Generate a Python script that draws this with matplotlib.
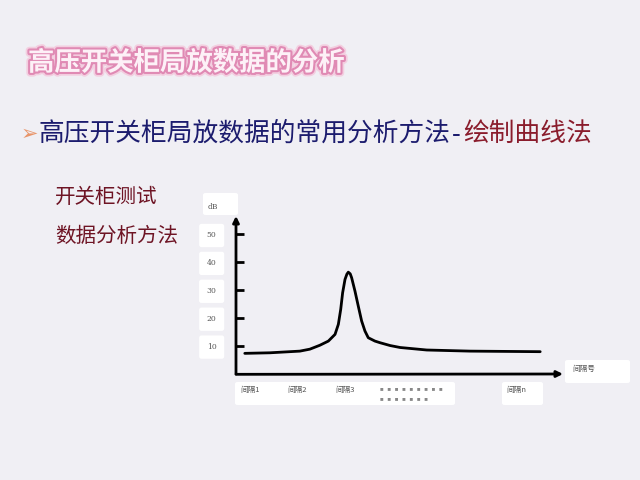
import matplotlib.pyplot as plt
import matplotlib.patheffects as pe
from matplotlib.patches import FancyBboxPatch
import matplotlib.transforms as mtransforms

plt.rcParams['font.family'] = ['Noto Sans CJK SC', 'DejaVu Sans']

# curve (x in interval units, y in dB)
curve_x = [0.89, 1.42, 2.05, 2.26, 2.47, 2.65, 2.79, 2.86, 2.91, 2.95, 3.00,
           3.04, 3.07, 3.11, 3.14, 3.21, 3.28, 3.35, 3.42, 3.49, 3.63, 3.74,
           3.95, 4.16, 4.72, 5.63, 7.11]
curve_y = [7.4, 7.6, 8.2, 8.9, 10.3, 11.8, 14.2, 17.8, 23.2, 29.1, 33.9,
           35.8, 36.5, 35.9, 34.5, 29.7, 24.3, 19.0, 15.4, 13.0, 11.8, 11.2,
           10.2, 9.5, 8.6, 8.2, 8.0]
y_ticks = [10, 20, 30, 40, 50]
interval_pos = [1, 2, 3, 6.6]
interval_labels = ["间隔1", "间隔2", "间隔3", "间隔n"]

title = "高压开关柜局放数据的分析"
subtitle_main = "高压开关柜局放数据的常用分析方法"
subtitle_tail = "绘制曲线法"
side_lines = ["开关柜测试", "数据分析方法"]

W, H = 640, 480
bg = "#f0eff4"
fig = plt.figure(figsize=(6.4, 4.8), dpi=100, facecolor=bg)


def fx(px):
    return px / W


def fy(py):
    return 1 - py / H


def box(x0, y0, x1, y1):
    fig.patches.append(FancyBboxPatch((fx(x0), fy(y1)), fx(x1 - x0), (y1 - y0) / H,
                                      boxstyle="round,pad=0,rounding_size=0.004",
                                      transform=fig.transFigure, facecolor="white",
                                      edgecolor="none", zorder=-1))


# title
fig.text(fx(28), fy(63), title, fontsize=19, fontweight="bold", color="#fdf1f7",
         va="center", ha="left",
         path_effects=[pe.withStroke(linewidth=5.5, foreground="#f3cfe0"),
                       pe.withStroke(linewidth=3, foreground="#e08ab4")])

# subtitle
fig.text(fx(21), fy(134), "➢", fontsize=15, color="#e8956a", va="center", ha="left")
fig.text(fx(38), fy(134), subtitle_main, fontsize=18.5, color="#1c1c6e",
         va="center", ha="left", fontweight="medium")
fig.text(fx(452), fy(134), "-", fontsize=18.5, color="#1c1c6e", va="center",
         ha="left", family="DejaVu Serif")
fig.text(fx(463), fy(134), subtitle_tail, fontsize=18.5, color="#8a1c2c",
         va="center", ha="left", fontweight="medium")

for txt, yy in zip(side_lines, [197, 236]):
    fig.text(fx(55), fy(yy), txt, fontsize=14.8, color="#6e1424",
             va="center", ha="left")

# label boxes
box(235, 382, 455, 405)
box(502, 382, 543, 405)
box(565, 360, 630, 383)
box(203, 193, 238, 215)

# chart
ax = fig.add_axes([fx(236), fy(374), fx(563 - 236), (374 - 216) / H])
ax.set_facecolor("none")
ax.set_xlim(0.705, 7.59)
ax.set_ylim(0, (374 - 216) / 2.79)
for s in ax.spines.values():
    s.set_visible(False)

ax.plot(curve_x, curve_y, color="black", lw=2.0, solid_joinstyle="round",
        solid_capstyle="round")

arrow = dict(arrowstyle="-|>", lw=2.0, color="black", mutation_scale=9,
             shrinkA=0, shrinkB=0)
ax.annotate("", xy=(0, 1), xytext=(0, 0), xycoords="axes fraction",
            textcoords="axes fraction", arrowprops=arrow)
ax.annotate("", xy=(1, 0), xytext=(0, -0.002), xycoords="axes fraction",
            textcoords="axes fraction", arrowprops=arrow)

ax.set_yticks(y_ticks)
ax.set_yticklabels([str(v) for v in y_ticks], fontsize=5.5, color="#555555",
                   family="DejaVu Serif")
ax.tick_params(axis="y", direction="in", length=6, width=2, pad=14)
for lab in ax.get_yticklabels():
    lab.set_bbox(dict(facecolor="white", edgecolor="none",
                      boxstyle="round,pad=1.0,rounding_size=0.3"))
ax.set_xticks([])

ax.text(-0.07, 1.06, "dB", transform=ax.transAxes, fontsize=5.5, color="#555555",
        ha="center", va="center", family="DejaVu Serif")

trans = mtransforms.blended_transform_factory(ax.transData, ax.transAxes)
for xp, lab in zip(interval_pos, interval_labels):
    ax.text(xp, -0.10, lab, transform=trans, fontsize=5.5, color="#555555",
            ha="center", va="center", clip_on=False)
ax.text(0.44, -0.10, "■     ■     ■     ■     ■     ■     ■     ■     ■",
        transform=ax.transAxes, fontsize=2.6, color="#888888", ha="left", va="center")
ax.text(0.44, -0.165, "■     ■     ■     ■     ■     ■     ■",
        transform=ax.transAxes, fontsize=2.6, color="#888888", ha="left", va="center")
ax.text(1.03, 0.03, "间隔号", transform=ax.transAxes, fontsize=5.5, color="#555555",
        ha="left", va="center")

fig.savefig("out.png", dpi=100, facecolor=bg)
